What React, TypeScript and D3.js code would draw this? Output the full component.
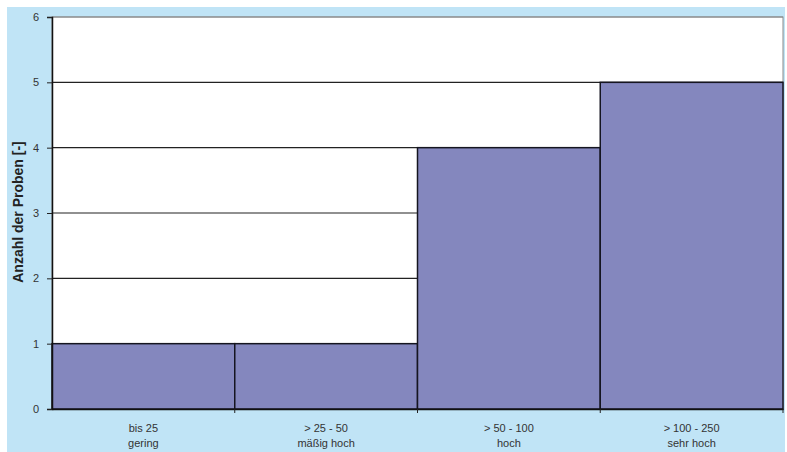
import { useEffect, useRef } from 'react';
import * as d3 from 'd3';

// chart data
const categories = ['bis 25', '> 25 - 50', '> 50 - 100', '> 100 - 250'];
const subLabels = ['gering', 'mäßig hoch', 'hoch', 'sehr hoch'];
const counts = [1, 1, 4, 5];
const yTicks = [0, 1, 2, 3, 4, 5, 6];

const App = () => {
  const svgRef = useRef<SVGSVGElement>(null);

  useEffect(() => {
    const width = 787;
    const height = 452;
    const margin = { top: 17, right: 4, bottom: 43, left: 52 };
    const chartWidth = width - margin.left - margin.right;
    const chartHeight = height - margin.top - margin.bottom;

    const root = d3.select(svgRef.current);
    root.selectAll('*').remove();
    root.attr('width', width).attr('height', height);

    // light blue frame
    root.append('rect')
      .attr('x', 7)
      .attr('y', 7)
      .attr('width', width - 9)
      .attr('height', height - 7)
      .attr('fill', '#C0E4F6');

    const svg = root.append('g')
      .attr('transform', `translate(${margin.left},${margin.top})`);

    const xScale = d3.scaleBand()
      .domain(categories)
      .range([0, chartWidth])
      .padding(0);

    const yScale = d3.scaleLinear()
      .domain([0, 6])
      .range([chartHeight, 0]);

    // plot area
    svg.append('rect')
      .attr('width', chartWidth)
      .attr('height', chartHeight)
      .attr('fill', '#fff')
      .attr('stroke', '#8a8a8a')
      .attr('stroke-width', 1);

    // grid lines
    svg.append('g')
      .selectAll('line')
      .data(yTicks.filter(t => t > 0))
      .enter()
      .append('line')
      .attr('x1', 0)
      .attr('x2', chartWidth)
      .attr('y1', d => yScale(d))
      .attr('y2', d => yScale(d))
      .attr('stroke', d => (d === 6 ? '#8a8a8a' : '#222'))
      .attr('stroke-width', 1.2);

    // bars
    svg.selectAll('.bar')
      .data(counts)
      .enter()
      .append('rect')
      .attr('class', 'bar')
      .attr('x', (d, i) => xScale(categories[i]) || 0)
      .attr('y', d => yScale(d))
      .attr('width', xScale.bandwidth())
      .attr('height', d => chartHeight - yScale(d))
      .attr('fill', '#8487BE')
      .attr('stroke', '#151520')
      .attr('stroke-width', 1.5);

    // y axis
    const yAxis = svg.append('g')
      .call(d3.axisLeft(yScale).tickValues(yTicks).tickFormat(d3.format('d')).tickSize(5).tickPadding(8));
    yAxis.select('.domain').attr('stroke', '#111').attr('stroke-width', 1.5);
    yAxis.selectAll('line').attr('stroke', '#222');
    yAxis.selectAll('text')
      .attr('font-family', 'Arial, "Liberation Sans", sans-serif')
      .attr('font-size', '11px')
      .attr('fill', '#333');

    // x axis
    const xAxis = svg.append('g')
      .attr('transform', `translate(0,${chartHeight})`)
      .call(d3.axisBottom(xScale).tickSize(0).tickFormat(() => ''));
    xAxis.select('.domain').attr('stroke', '#111').attr('stroke-width', 1.5);

    // x boundary ticks
    svg.append('g')
      .selectAll('line')
      .data(categories)
      .enter()
      .append('line')
      .attr('x1', d => (xScale(d) || 0) + xScale.bandwidth())
      .attr('x2', d => (xScale(d) || 0) + xScale.bandwidth())
      .attr('y1', chartHeight)
      .attr('y2', chartHeight + 4)
      .attr('stroke', '#222');

    // x labels (two lines)
    const labels = svg.append('g')
      .selectAll('text')
      .data(categories)
      .enter()
      .append('text')
      .attr('x', d => (xScale(d) || 0) + xScale.bandwidth() / 2)
      .attr('y', chartHeight + 23)
      .attr('text-anchor', 'middle')
      .attr('font-family', 'Arial, "Liberation Sans", sans-serif')
      .attr('font-size', '11px')
      .attr('fill', '#333');
    labels.append('tspan')
      .attr('x', d => (xScale(d) || 0) + xScale.bandwidth() / 2)
      .text(d => d);
    labels.append('tspan')
      .attr('x', d => (xScale(d) || 0) + xScale.bandwidth() / 2)
      .attr('dy', 15)
      .text((d, i) => subLabels[i]);

    // y axis title
    svg.append('text')
      .attr('transform', `translate(${18 - margin.left},${212 - margin.top}) rotate(-90)`)
      .attr('text-anchor', 'middle')
      .attr('dy', '0.35em')
      .attr('font-family', 'Arial, "Liberation Sans", sans-serif')
      .attr('font-size', '14px')
      .attr('font-weight', 'bold')
      .attr('fill', '#222')
      .text('Anzahl der Proben [-]');
  }, []);

  return (
    <svg ref={svgRef} style={{ position: 'absolute', left: 0, top: 0, display: 'block' }}></svg>
  );
};

export default App;
